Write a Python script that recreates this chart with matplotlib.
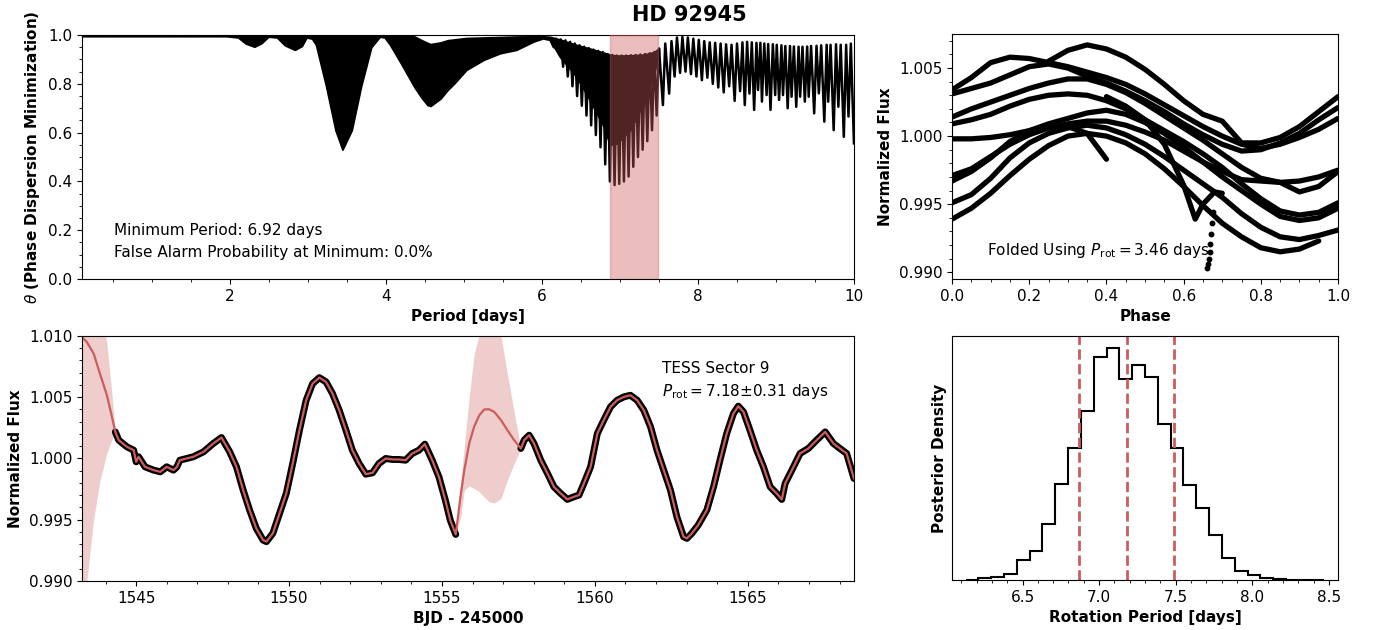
import numpy as np
import matplotlib.pyplot as plt
from matplotlib.ticker import MultipleLocator

nan = np.nan

# ---------------- PDM periodogram (top left) ----------------
# dense part of the periodogram: (period, upper edge, lower edge)
pdm_band = [
    (0.10, 0.998, 0.995), (1.95, 0.998, 0.995), (2.10, 0.998, 0.990),
    (2.20, 0.998, 0.965), (2.31, 0.998, 0.952), (2.40, 0.998, 0.966),
    (2.49, 0.998, 0.993), (2.60, 0.998, 0.990), (2.70, 0.998, 0.958),
    (2.83, 0.998, 0.939), (2.92, 0.998, 0.955), (2.98, 0.998, 0.990),
    (3.05, 0.998, 0.985), (3.10, 0.998, 0.960), (3.23, 0.998, 0.790),
    (3.35, 0.998, 0.610), (3.44, 0.998, 0.530), (3.56, 0.998, 0.610),
    (3.68, 0.998, 0.790), (3.81, 0.998, 0.950), (3.92, 0.998, 0.993),
    (3.98, 0.998, 0.990), (4.05, 0.998, 0.960), (4.19, 0.998, 0.884),
    (4.36, 0.995, 0.788), (4.45, 0.980, 0.745), (4.53, 0.968, 0.713),
    (4.57, 0.963, 0.709), (4.70, 0.970, 0.740), (4.79, 0.979, 0.775),
    (4.87, 0.982, 0.800), (5.03, 0.988, 0.857), (5.25, 0.990, 0.898),
    (5.46, 0.992, 0.925), (5.67, 0.994, 0.939), (5.89, 0.995, 0.973),
    (6.01, 0.995, 0.986), (6.10, 0.993, 0.980), (6.23, 0.982, 0.910),
    (6.44, 0.960, 0.830), (6.60, 0.946, 0.740), (6.79, 0.928, 0.625),
    (6.87, 0.920, 0.550), (6.96, 0.916, 0.555), (7.13, 0.917, 0.610),
    (7.30, 0.920, 0.720), (7.43, 0.930, 0.830), (7.50, 0.945, 0.925),
]

# resolved oscillations: alternating peaks and troughs (period, theta)
pdm_osc = [
    (6.10, 0.985), (6.15, 0.950), (6.18, 0.985), (6.21, 0.930), (6.24, 0.982),
    (6.27, 0.870), (6.30, 0.978), (6.33, 0.830), (6.36, 0.972), (6.39, 0.790),
    (6.42, 0.965), (6.45, 0.750), (6.48, 0.958), (6.51, 0.710), (6.54, 0.952),
    (6.57, 0.670), (6.60, 0.946), (6.63, 0.630), (6.66, 0.940), (6.69, 0.590),
    (6.72, 0.935), (6.75, 0.540), (6.78, 0.930), (6.81, 0.470), (6.84, 0.922),
    (6.87, 0.400), (6.90, 0.918), (6.93, 0.385), (6.96, 0.916), (6.99, 0.390),
    (7.02, 0.916), (7.05, 0.400), (7.08, 0.916), (7.11, 0.420), (7.14, 0.917),
    (7.17, 0.460), (7.20, 0.918), (7.23, 0.500), (7.26, 0.920), (7.29, 0.530),
    (7.32, 0.922), (7.35, 0.565), (7.38, 0.925), (7.41, 0.610), (7.44, 0.930),
    (7.47, 0.670), (7.50, 0.945), (7.55, 0.713), (7.58, 0.965), (7.63, 0.760),
    (7.66, 0.975), (7.70, 0.830), (7.73, 0.990), (7.77, 0.845), (7.80, 0.992),
    (7.84, 0.850), (7.87, 0.990), (7.91, 0.840), (7.94, 0.985), (7.98, 0.830),
    (8.01, 0.980), (8.05, 0.815), (8.08, 0.975), (8.12, 0.825), (8.15, 0.970),
    (8.19, 0.800), (8.22, 0.968), (8.26, 0.785), (8.29, 0.965), (8.33, 0.765),
    (8.36, 0.962), (8.40, 0.790), (8.43, 0.960), (8.47, 0.730), (8.50, 0.965),
    (8.54, 0.770), (8.57, 0.970), (8.60, 0.713), (8.63, 0.972), (8.66, 0.760),
    (8.69, 0.970), (8.72, 0.693), (8.75, 0.968), (8.77, 0.775), (8.80, 0.968),
    (8.82, 0.727), (8.85, 0.965), (8.88, 0.754), (8.90, 0.963), (8.93, 0.693),
    (8.96, 0.962), (8.99, 0.754), (9.01, 0.960), (9.04, 0.734), (9.07, 0.958),
    (9.09, 0.754), (9.12, 0.955), (9.15, 0.700), (9.18, 0.955), (9.20, 0.747),
    (9.23, 0.953), (9.26, 0.706), (9.29, 0.952), (9.31, 0.747), (9.34, 0.952),
    (9.37, 0.727), (9.40, 0.953), (9.42, 0.747), (9.45, 0.955), (9.49, 0.679),
    (9.52, 0.956), (9.55, 0.761), (9.58, 0.958), (9.62, 0.645), (9.65, 0.960),
    (9.67, 0.727), (9.70, 0.960), (9.74, 0.610), (9.77, 0.962), (9.80, 0.706),
    (9.83, 0.960), (9.87, 0.583), (9.90, 0.960), (9.93, 0.666), (9.96, 0.965),
    (10.0, 0.556),
]

min_period = 6.92
fap = 0.0
p_rot = 7.18
p_rot_err = 0.31
p_fold = 3.46

# ---------------- folded light curve (top right) ----------------
fold_phase = [0.00, 0.05, 0.10, 0.15, 0.20, 0.25, 0.30, 0.35, 0.40, 0.45, 0.50,
              0.55, 0.60, 0.65, 0.70, 0.75, 0.80, 0.85, 0.90, 0.95, 1.00]
# flux - 1, in units of 1e-3, one list per cycle
fold_a = [nan, nan, nan, nan, nan, 5.5, 6.3, 6.7, 6.4, 5.8, 4.9, 3.8, 2.6, 1.6, 1.1, -0.5, -0.5, -0.1, 0.7, 1.8, 2.9]
fold_b = [3.4, 4.3, 5.4, 5.8, 5.7, 5.4, 5.1, 4.7, 4.3, 3.8, 3.1, 2.3, 1.5, 0.7, 0.0, -0.6, -0.9, -0.6, -0.1, 0.5, 1.3]
fold_c = [3.1, 3.5, 3.9, 4.5, 5.1, 5.3, 5.0, 4.4, 3.9, 3.3, 2.6, 1.8, 0.9, 0.1, -0.6, -1.1, -1.0, -0.5, 0.2, 1.2, 2.1]
fold_d = [1.4, 2.0, 2.5, 3.0, 3.5, 3.9, 4.2, 4.2, 3.8, 3.2, 2.4, 1.5, 0.6, -0.3, -1.3, -2.3, -3.1, -3.4, -3.3, -3.0, -2.5]
fold_e = [0.9, 1.2, 1.6, 2.2, 2.7, 3.0, 3.1, 3.0, 2.6, 2.0, 1.2, 0.4, -0.4, -1.3, -2.3, -3.5, -4.6, -5.5, -5.8, -5.6, -4.9]
fold_f = [-0.2, -0.2, -0.1, 0.1, 0.4, 0.6, 0.7, 0.2, -1.7, nan, nan, nan, nan, nan, nan, nan, nan, nan, nan, nan, nan]
fold_g = [-2.9, -2.4, -1.5, -0.6, 0.1, 0.6, 0.9, 1.1, 1.1, 0.8, 0.3, -0.3, -1.1, -1.9, -2.6, -3.2, -3.3, -3.4, -4.1, -3.7, -2.6]
fold_h = [-3.3, -2.6, -1.6, -0.4, 0.4, 0.9, 1.3, 1.7, 1.9, 1.6, 1.0, 0.2, -0.8, -1.9, -3.0, -4.0, -5.0, -5.9, -6.2, -6.0, -5.3]
fold_i = [-4.9, -4.3, -3.1, -1.6, -0.5, 0.2, 0.6, 0.8, 0.6, 0.1, -0.6, -1.5, -2.5, -3.5, -4.5, -5.7, -6.7, -7.4, -7.6, -7.3, -6.9]
fold_j = [-6.1, -5.3, -4.2, -2.9, -1.7, -0.7, 0.0, 0.2, 0.0, -0.5, -1.3, -2.4, -3.7, -5.1, -6.4, -7.4, -8.2, -8.5, -8.3, -7.7, nan]
# short cycle with the sharp dip near phase 0.63
fold_k_phase = [0.40, 0.45, 0.50, 0.55, 0.60, 0.63, 0.65, 0.68, 0.70]
fold_k = [2.9, 2.2, 1.2, -0.6, -3.6, -6.1, -5.0, -4.1, -4.2]
# sparse points on the steep drop
fold_dip_phase = [0.676, 0.673, 0.671, 0.669, 0.667, 0.665, 0.663, 0.661]
fold_dip = [-5.6, -6.4, -7.2, -7.9, -8.5, -9.0, -9.4, -9.7]

# ---------------- TESS light curve + GP (bottom left) ----------------
lc_orbit1 = [
    (1544.32, 1.00217), (1544.43, 1.00150), (1544.70, 1.00095), (1544.92, 1.00068),
    (1545.00, 0.99973), (1545.08, 1.00014), (1545.29, 0.99932), (1545.57, 0.99905),
    (1545.79, 0.99891), (1546.00, 0.99932), (1546.22, 0.99905), (1546.33, 0.99930),
    (1546.43, 0.99986), (1546.65, 1.00000), (1546.87, 1.00014), (1547.20, 1.00054),
    (1547.52, 1.00122), (1547.79, 1.00171), (1548.06, 1.00054), (1548.28, 0.99932),
    (1548.50, 0.99742), (1548.71, 0.99579), (1548.93, 0.99429), (1549.15, 0.99334),
    (1549.26, 0.99321), (1549.47, 0.99389), (1549.69, 0.99552), (1549.91, 0.99715),
    (1550.12, 0.99959), (1550.34, 1.00231), (1550.56, 1.00476), (1550.77, 1.00611),
    (1550.99, 1.00660), (1551.21, 1.00625), (1551.42, 1.00530), (1551.64, 1.00394),
    (1551.86, 1.00231), (1552.07, 1.00068), (1552.29, 0.99959), (1552.51, 0.99872),
    (1552.73, 0.99883), (1552.94, 0.99959), (1553.16, 1.00000), (1553.38, 0.99992),
    (1553.59, 0.99992), (1553.81, 0.99986), (1554.03, 1.00041), (1554.25, 1.00068),
    (1554.44, 1.00117), (1554.68, 0.99986), (1554.90, 0.99850), (1555.11, 0.99660),
    (1555.27, 0.99497), (1555.45, 0.99380),
]
lc_orbit2 = [
    (1557.58, 1.00082), (1557.69, 1.00150), (1557.85, 1.00190), (1558.01, 1.00122),
    (1558.23, 0.99986), (1558.45, 0.99878), (1558.66, 0.99769), (1558.88, 0.99715),
    (1559.10, 0.99666), (1559.32, 0.99688), (1559.48, 0.99701), (1559.64, 0.99796),
    (1559.86, 0.99932), (1560.08, 1.00204), (1560.29, 1.00313), (1560.51, 1.00421),
    (1560.73, 1.00476), (1560.95, 1.00503), (1561.16, 1.00516), (1561.38, 1.00476),
    (1561.60, 1.00394), (1561.82, 1.00258), (1562.03, 1.00068), (1562.25, 0.99905),
    (1562.47, 0.99742), (1562.68, 0.99524), (1562.90, 0.99361), (1563.01, 0.99348),
    (1563.17, 0.99389), (1563.38, 0.99457), (1563.66, 0.99579), (1563.88, 0.99769),
    (1564.09, 0.99986), (1564.31, 1.00204), (1564.53, 1.00367), (1564.69, 1.00427),
    (1564.86, 1.00380), (1565.07, 1.00231), (1565.29, 1.00068), (1565.51, 0.99932),
    (1565.73, 0.99769), (1565.94, 0.99715), (1566.11, 0.99666), (1566.22, 0.99796),
    (1566.44, 0.99905), (1566.71, 1.00041), (1566.98, 1.00082), (1567.25, 1.00150),
    (1567.53, 1.00217), (1567.80, 1.00122), (1568.01, 1.00082), (1568.23, 1.00041),
    (1568.47, 0.99837),
]
# GP prediction in the gaps: (time, mean, upper, lower)
gp_gap1 = [
    (1543.23, 1.00990, 1.01350, 0.98400), (1543.39, 1.00950, 1.01400, 0.99000),
    (1543.61, 1.00857, 1.01400, 0.99500), (1543.82, 1.00690, 1.01250, 0.99820),
    (1544.04, 1.00520, 1.00950, 1.00040), (1544.20, 1.00350, 1.00550, 1.00150),
    (1544.32, 1.00217, 1.00217, 1.00217),
]
gp_gap2 = [
    (1555.45, 0.99380, 0.99380, 0.99380), (1555.62, 0.99714, 0.99820, 0.99530),
    (1555.73, 0.99904, 1.00100, 0.99741), (1555.89, 1.00122, 1.00500, 0.99776),
    (1556.05, 1.00258, 1.00850, 0.99755), (1556.22, 1.00353, 1.01020, 0.99728),
    (1556.38, 1.00400, 1.01150, 0.99686), (1556.54, 1.00402, 1.01220, 0.99646),
    (1556.71, 1.00380, 1.01180, 0.99637), (1556.93, 1.00313, 1.01000, 0.99673),
    (1557.14, 1.00231, 1.00690, 0.99823), (1557.36, 1.00149, 1.00380, 0.99959),
    (1557.58, 1.00082, 1.00082, 1.00082),
]

# ---------------- posterior of P_rot (bottom right) ----------------
hist_counts = [1, 5, 8, 17, 60, 88, 168, 287, 395, 509, 670, 698, 605, 647,
               609, 468, 395, 284, 217, 135, 66, 28, 16, 6, 2, 1, 0.5, 0.3]
hist_lo, hist_hi = 6.128, 8.471

red = 'indianred'

fig = plt.figure(figsize=(13.78, 6.3), dpi=100)
fig.text(0.5, 0.976, 'HD 92945', ha='center', va='center', fontsize=15, fontweight='bold')

# --- top left: PDM ---
ax1 = fig.add_axes([0.0595, 0.5571, 0.5602, 0.3873])
band = np.array(pdm_band)
osc = np.array(pdm_osc)
ax1.fill_between(band[:, 0], band[:, 2], band[:, 1], color='k', lw=1.2)
ax1.plot(osc[:, 0], osc[:, 1], color='k', lw=1.8)
ax1.axhline(1.0, color='gray', ls='--', lw=1.5)
ax1.axvspan(p_rot - p_rot_err, p_rot + p_rot_err, color=red, alpha=0.4, zorder=3)
ax1.set_xlim(0.1, 10)
ax1.set_ylim(0, 1.0)
ax1.xaxis.set_major_locator(MultipleLocator(2))
ax1.xaxis.set_minor_locator(MultipleLocator(0.5))
ax1.yaxis.set_major_locator(MultipleLocator(0.2))
ax1.yaxis.set_minor_locator(MultipleLocator(0.05))
ax1.set_xlabel('Period [days]', fontsize=11, fontweight='bold')
ax1.set_ylabel(r'$\theta$ (Phase Dispersion Minimization)', fontsize=11, fontweight='bold')
ax1.text(0.0415, 0.18, f'Minimum Period: {min_period:.2f} days', transform=ax1.transAxes,
         fontsize=11, va='baseline')
ax1.text(0.0415, 0.089, f'False Alarm Probability at Minimum: {fap:.1f}%',
         transform=ax1.transAxes, fontsize=11, va='baseline')

# --- top right: folded ---
ax2 = fig.add_axes([0.6909, 0.5571, 0.2801, 0.3889])
for cyc in [fold_a, fold_b, fold_c, fold_d, fold_e, fold_f, fold_g, fold_h, fold_i, fold_j]:
    ax2.plot(fold_phase, 1 + np.array(cyc) * 1e-3, color='k', lw=3.8,
             solid_capstyle='round', solid_joinstyle='round')
ax2.plot(fold_k_phase, 1 + np.array(fold_k) * 1e-3, color='k', lw=3.8,
         solid_capstyle='round', solid_joinstyle='round')
ax2.plot(fold_dip_phase, 1 + np.array(fold_dip) * 1e-3, 'o', color='k', ms=3.2)
ax2.set_xlim(0, 1)
ax2.set_ylim(0.9895, 1.0075)
ax2.xaxis.set_major_locator(MultipleLocator(0.2))
ax2.xaxis.set_minor_locator(MultipleLocator(0.05))
ax2.yaxis.set_major_locator(MultipleLocator(0.005))
ax2.yaxis.set_minor_locator(MultipleLocator(0.001))
ax2.yaxis.set_major_formatter('{x:.3f}')
ax2.set_xlabel('Phase', fontsize=11, fontweight='bold')
ax2.set_ylabel('Normalized Flux', fontsize=11, fontweight='bold')
ax2.text(0.09, 0.098, r'Folded Using $P_{\rm rot} = $' + f'{p_fold:.2f} days',
         transform=ax2.transAxes, fontsize=11, va='baseline')

# --- bottom left: light curve ---
ax3 = fig.add_axes([0.0595, 0.0778, 0.5602, 0.3889])
lc1 = np.array(lc_orbit1)
lc2 = np.array(lc_orbit2)
g1 = np.array(gp_gap1)
g2 = np.array(gp_gap2)
for g in (g1, g2):
    ax3.fill_between(g[:, 0], g[:, 3], g[:, 2], color=red, alpha=0.3, lw=0)
for lc in (lc1, lc2):
    ax3.plot(lc[:, 0], lc[:, 1], color='k', lw=5, solid_capstyle='round',
             solid_joinstyle='round')
gp_t = np.concatenate([g1[:, 0], lc1[1:, 0], g2[1:, 0], lc2[1:, 0]])
gp_mu = np.concatenate([g1[:, 1], lc1[1:, 1], g2[1:, 1], lc2[1:, 1]])
ax3.plot(gp_t, gp_mu, color=red, lw=1.6)
ax3.set_xlim(1543.23, 1568.47)
ax3.set_ylim(0.990, 1.010)
ax3.xaxis.set_major_locator(MultipleLocator(5))
ax3.xaxis.set_minor_locator(MultipleLocator(1))
ax3.yaxis.set_major_locator(MultipleLocator(0.005))
ax3.yaxis.set_minor_locator(MultipleLocator(0.001))
ax3.yaxis.set_major_formatter('{x:.3f}')
ax3.set_xlabel('BJD - 245000', fontsize=11, fontweight='bold')
ax3.set_ylabel('Normalized Flux', fontsize=11, fontweight='bold')
ax3.text(0.751, 0.848, 'TESS Sector 9', transform=ax3.transAxes, fontsize=11, va='baseline')
ax3.text(0.751, 0.755, r'$P_{\rm rot} = %.2f{\pm}%.2f$ days' % (p_rot, p_rot_err),
         transform=ax3.transAxes, fontsize=11, va='baseline')

# --- bottom right: posterior ---
ax4 = fig.add_axes([0.6909, 0.0794, 0.2801, 0.3873])
edges = np.linspace(hist_lo, hist_hi, len(hist_counts) + 1)
ax4.stairs(hist_counts, edges, color='k', lw=1.5)
for v in (p_rot - p_rot_err, p_rot, p_rot + p_rot_err):
    ax4.axvline(v, color=red, ls='--', lw=2)
ax4.set_xlim(6.04, 8.56)
ax4.set_ylim(0, max(hist_counts) * 1.05)
ax4.set_yticks([])
ax4.xaxis.set_major_locator(MultipleLocator(0.5))
ax4.xaxis.set_minor_locator(MultipleLocator(0.1))
ax4.set_xlabel('Rotation Period [days]', fontsize=11, fontweight='bold')
ax4.set_ylabel('Posterior Density', fontsize=11, fontweight='bold')

for ax in (ax1, ax2, ax3, ax4):
    ax.tick_params(labelsize=11)

fig.savefig('out.png', dpi=100)
